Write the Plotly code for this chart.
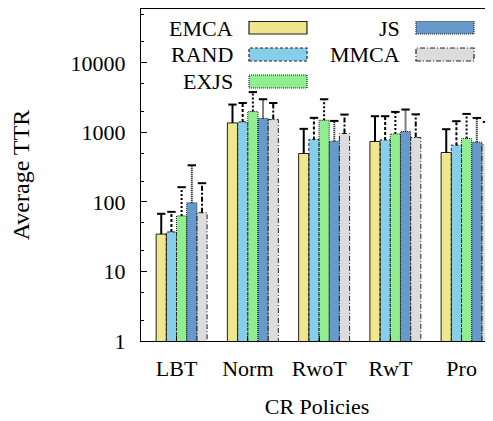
import plotly.graph_objects as go

categories = ["LBT", "Norm", "RwoT", "RwT", "Pro"]
series_names = ["EMCA", "RAND", "EXJS", "JS", "MMCA"]

emca = [34.5, 1370, 497, 740, 514]
rand = [37, 1415, 790, 780, 655]
exjs = [63, 1995, 1497, 952, 817]
js = [97, 1590, 747, 1030, 723]
mmca = [70, 1530, 964, 845, 670]

emca_err = [33, 1145, 628, 970, 598]
rand_err = [35, 1235, 830, 930, 795]
exjs_err = [100, 1805, 1503, 1018, 1028]
js_err = [240, 1410, 716, 1105, 892]
mmca_err = [116, 1120, 843, 975, 745]

values = [emca, rand, exjs, js, mmca]
errors = [emca_err, rand_err, exjs_err, js_err, mmca_err]

colors = ["#F0E68C", "#87CEEB", "#90EE90", "#6699CC", "#DCDCDC"]
outline_dash = ["solid", "3px,2px", "1px,1px", "1px,1px", "5px,2px,1px,2px"]
err_dash = ["solid", "3px,2px", "2px,2px", "1px,1px", "5px,2px,2px,2px"]

# the page body has an 8px margin, so the figure is drawn 8px smaller
OFF = 8
W = 493 - OFF
H = 421 - OFF
ML, MR, MT, MB = 141 - OFF, 0, 9 - OFF, 80
FONT = "Liberation Serif, Times New Roman, serif"

bar_w = 0.143
shift = 0.07

fig = go.Figure()

for k, (name, vals, errs) in enumerate(zip(series_names, values, errors)):
    xs = [i + (k - 2) * bar_w + shift for i in range(len(categories))]
    fig.add_trace(go.Bar(
        x=xs, y=vals, width=bar_w, name=name,
        marker=dict(color=colors[k], line=dict(width=0)),
        showlegend=False,
    ))
    # dashed outlines
    ox, oy = [], []
    for xc, v in zip(xs, vals):
        x0, x1 = xc - bar_w / 2, xc + bar_w / 2
        ox += [x0, x0, x1, x1, None]
        oy += [1, v, v, 1, None]
    fig.add_trace(go.Scatter(
        x=ox, y=oy, mode="lines", showlegend=False, hoverinfo="skip",
        line=dict(color="#222222", width=1, dash=outline_dash[k]),
    ))
    # error bars (upper only)
    ex, ey = [], []
    for xc, v, e in zip(xs, vals, errs):
        ex += [xc, xc, None]
        ey += [v, v + e, None]
    fig.add_trace(go.Scatter(
        x=ex, y=ey, mode="lines", showlegend=False, hoverinfo="skip",
        line=dict(color="black", width=2, dash=err_dash[k]),
    ))
    fig.add_trace(go.Scatter(
        x=xs, y=[v + e for v, e in zip(vals, errs)], mode="markers",
        showlegend=False, hoverinfo="skip",
        marker=dict(symbol="line-ew", size=6, line=dict(color="black", width=2)),
    ))

pw = W - ML - MR
ph = H - MT - MB


def px_x(p):
    return (p - OFF - ML) / pw


def px_y(p):
    return (H - MB - (p - OFF)) / ph


# legend (text to the left of the sample box, two columns), reference page pixels
legend_layout = [
    (235, 29, 249, 307, 21.5, 34),
    (235, 54, 249, 307, 48, 61),
    (235, 81.5, 249, 307, 75, 88),
    (401.5, 29, 416, 474, 21.5, 34),
    (401.5, 54, 416, 474, 48, 61),
]
annotations = []
shapes = []
for k, name in enumerate(series_names):
    tx, ty, bx0, bx1, by0, by1 = legend_layout[k]
    annotations.append(dict(
        x=px_x(tx), y=px_y(ty), xref="paper", yref="paper",
        text=name, showarrow=False, xanchor="right", yanchor="middle",
        font=dict(family=FONT, size=22, color="black"),
    ))
    shapes.append(dict(
        type="rect", xref="paper", yref="paper",
        x0=px_x(bx0), x1=px_x(bx1), y0=px_y(by1), y1=px_y(by0),
        fillcolor=colors[k],
        line=dict(color="#222222", width=1.2, dash=outline_dash[k]),
    ))

x_right = -0.5 + pw / 71.25

fig.update_layout(
    width=W, height=H,
    margin=dict(l=ML, r=MR, t=MT, b=MB),
    plot_bgcolor="white", paper_bgcolor="white",
    barmode="overlay",
    font=dict(family=FONT, size=22, color="black"),
    annotations=annotations,
    shapes=shapes,
    xaxis=dict(
        range=[-0.5, x_right],
        tickvals=list(range(len(categories))), ticktext=categories,
        ticks="inside", ticklen=5, tickcolor="black",
        showline=True, linecolor="black", linewidth=1, mirror=True,
        showgrid=False, zeroline=False,
        tickfont=dict(family=FONT, size=22),
        ticklabelstandoff=8,
        title=dict(text="CR Policies", font=dict(family=FONT, size=22), standoff=18),
    ),
    yaxis=dict(
        type="log", range=[0, 4.775],
        tickvals=[1, 10, 100, 1000, 10000],
        ticktext=["1", "10", "100", "1000", "10000"],
        ticks="inside", ticklen=6, tickcolor="black",
        minor=dict(
            tickvals=[2, 5, 20, 50, 200, 500, 2000, 5000, 20000, 50000],
            ticks="inside", ticklen=3, tickcolor="black",
        ),
        showline=True, linecolor="black", linewidth=1, mirror=False,
        showgrid=False, zeroline=False,
        tickfont=dict(family=FONT, size=22),
        ticklabelstandoff=10,
        title=dict(text="Average TTR", font=dict(family=FONT, size=24), standoff=35),
    ),
)

fig.write_html("out.html")
